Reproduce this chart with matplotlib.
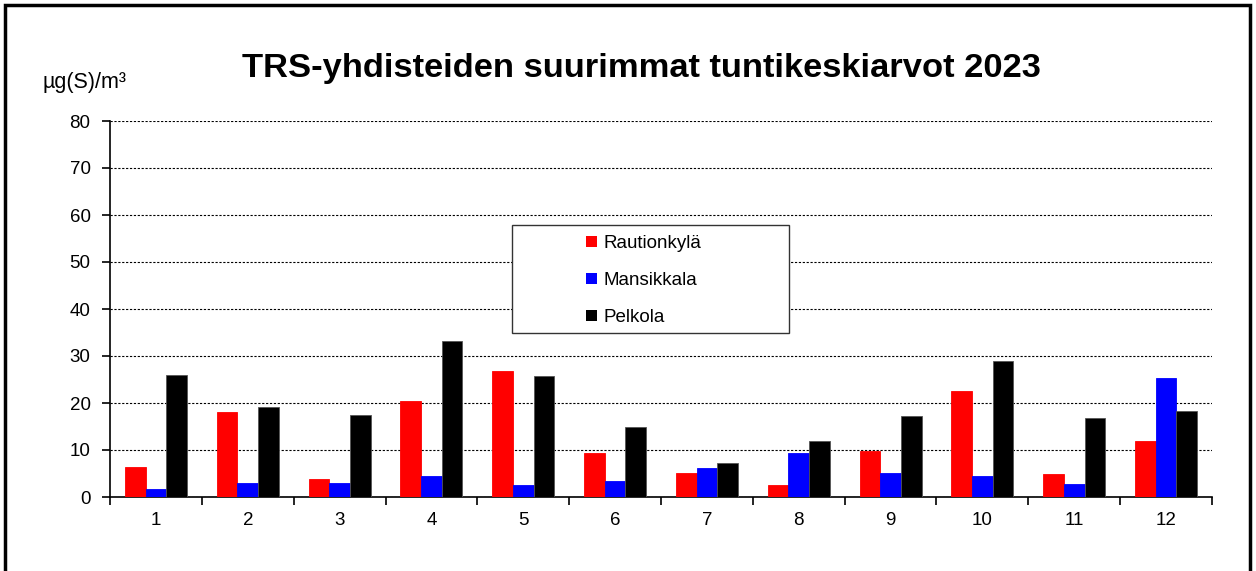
import matplotlib
matplotlib.use("Agg")
import matplotlib.pyplot as plt
import matplotlib.patches as mpatches
import numpy as np

plt.rcParams['font.family'] = ['Liberation Sans', 'DejaVu Sans']

months = ['1', '2', '3', '4', '5', '6', '7', '8', '9', '10', '11', '12']
rautionkyla = [6.4, 18.1, 3.8, 20.4, 26.8, 9.4, 5.1, 2.6, 9.8, 22.6, 4.9, 11.9]
mansikkala = [1.7, 3.0, 3.0, 4.5, 2.6, 3.4, 6.2, 9.4, 5.1, 4.5, 2.8, 25.3]
pelkola = [26.0, 19.1, 17.4, 33.2, 25.7, 14.9, 7.2, 11.9, 17.2, 28.9, 16.8, 18.3]
series_names = ['Rautionkylä', 'Mansikkala', 'Pelkola']
colors = ['#ff0000', '#0000ff', '#000000']
yticks = [0, 10, 20, 30, 40, 50, 60, 70, 80]

W, H = 1256, 571
AX_L, AX_R, AX_T, AX_B = 110, 1212, 121, 497
fig = plt.figure(figsize=(W / 100, H / 100), dpi=100)
ax = fig.add_axes([AX_L / W, (H - AX_B) / H, (AX_R - AX_L) / W, (AX_B - AX_T) / H])

x = np.arange(len(months))
bw = 0.225
for i, (vals, c, name) in enumerate(zip([rautionkyla, mansikkala, pelkola], colors, series_names)):
    ax.bar(x + (i - 1) * bw, vals, width=bw, color=c, edgecolor='#555555' if c == '#000000' else c,
           linewidth=0.6, label=name, zorder=3)

ax.set_xlim(-0.5, len(months) - 0.5)
ax.set_ylim(0, 80)
ax.set_yticks(yticks)
ax.set_yticklabels([str(v) for v in yticks], fontsize=13.5)
ax.set_xticks(np.arange(-0.5, len(months), 1.0))
ax.set_xticklabels([])
ax.set_xticks(x, minor=True)
ax.set_xticklabels(months, minor=True, fontsize=13.5)
ax.tick_params(axis='x', which='major', direction='out', length=6, width=1.2)
ax.tick_params(axis='x', which='minor', length=0, pad=11)
ax.tick_params(axis='y', direction='out', length=6, width=1.2, pad=8)
ax.grid(axis='y', linestyle=(0, (2, 1.5)), color='#000000', linewidth=0.8, zorder=0)
ax.spines['top'].set_visible(False)
ax.spines['right'].set_visible(False)
ax.spines['left'].set_linewidth(1.2)
ax.spines['bottom'].set_linewidth(1.2)

fig.text(641 / W, 1 - 69 / H, 'TRS-yhdisteiden suurimmat tuntikeskiarvot 2023',
         ha='center', va='center', fontsize=24.8, fontweight='bold')
fig.text(42 / W, 1 - 83 / H, 'µg(S)/m³', ha='left', va='center', fontsize=15.5)

# legend frame box
aw, ah = AX_R - AX_L, AX_B - AX_T
frame = mpatches.Rectangle(((512 - AX_L) / aw, (AX_B - 333) / ah), (789 - 512) / aw, (333 - 225) / ah,
                           transform=ax.transAxes, facecolor='white', edgecolor='#333333',
                           linewidth=1.0, zorder=4, clip_on=False)
ax.add_patch(frame)
leg = ax.legend(loc='upper left', bbox_to_anchor=((578 - AX_L) / aw, (AX_B - 227) / ah),
                frameon=False, fontsize=13.5,
                handlelength=0.55, handleheight=0.55, labelspacing=1.05,
                borderpad=0.45, handletextpad=0.35, borderaxespad=0)
leg.set_zorder(5)
for h in leg.legend_handles:
    h.set_edgecolor('none')

border = mpatches.Rectangle((5 / W, -0.05), (1250 - 5) / W, 1.05 - 5 / H,
                            transform=fig.transFigure, fill=False, edgecolor='black',
                            linewidth=2.5)
fig.patches.append(border)

fig.savefig('out.png', dpi=100)
